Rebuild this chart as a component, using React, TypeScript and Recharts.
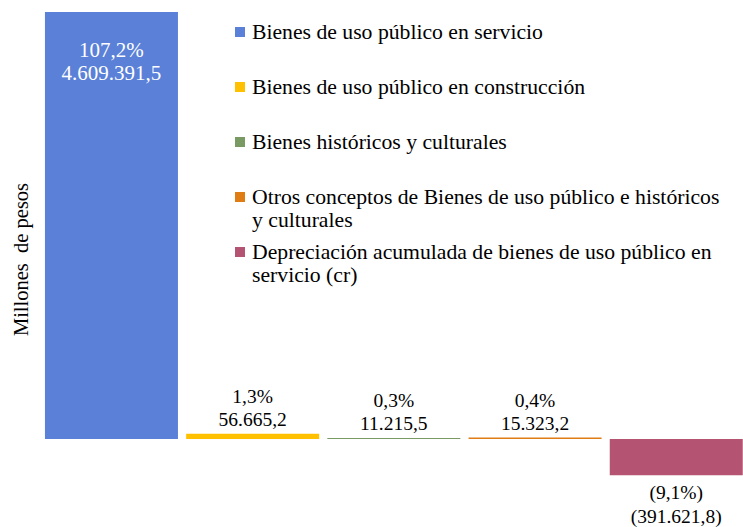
import { FC } from 'react';
import { BarChart, Bar, XAxis, YAxis, Cell, LabelList, Legend } from 'recharts';

const categories = [
  'Bienes de uso público en servicio',
  'Bienes de uso público en construcción',
  'Bienes históricos y culturales',
  'Otros conceptos de Bienes de uso público e históricos y culturales',
  'Depreciación acumulada de bienes de uso público en servicio (cr)',
];
const amounts = [4609391.5, 56665.2, 11215.5, 15323.2, -391621.8];
const shares = ['107,2%', '1,3%', '0,3%', '0,4%', '(9,1%)'];
const colors = ['#5A80D8', '#FFC000', '#7A9A63', '#E07C14', '#B55472'];

const data = categories.map((name, i) => ({ name, value: amounts[i] }));

const FONT = '"Liberation Serif", "Times New Roman", serif';

const fmt = (v: number) => {
  const [int, dec] = Math.abs(v).toFixed(1).split('.');
  const s = int.replace(/\B(?=(\d{3})+(?!\d))/g, '.') + ',' + dec;
  return v < 0 ? `(${s})` : s;
};

const BarLabel = (props: any) => {
  const { x, y, width, height, index, value } = props;
  const top = Math.min(y, y + height);
  const bottom = Math.max(y, y + height);
  const cx = x + width / 2;
  let y1: number;
  let y2: number;
  let fill = '#000';
  let size = 19.5;
  if (index === 0) {
    y1 = top + 38;
    y2 = top + 61;
    fill = '#fff';
    size = 21;
  } else if (value < 0) {
    y1 = bottom + 17;
    y2 = bottom + 41;
  } else {
    y1 = top - 37;
    y2 = top - 14;
  }
  return (
    <g fontFamily={FONT} fontSize={size} fill={fill} textAnchor="middle">
      <text x={cx} y={y1} dominantBaseline="central" fill={fill}>{shares[index]}</text>
      <text x={cx} y={y2} dominantBaseline="central" fill={fill}>{fmt(amounts[index])}</text>
    </g>
  );
};

const LegendBox = () => (
  <div style={{ fontFamily: FONT, fontSize: 21.7, lineHeight: '23px', color: '#000' }}>
    {categories.map((c, i) => (
      <div key={c} style={{ display: 'flex', height: 55, alignItems: 'flex-start' }}>
        <span style={{ width: 10, height: 10, background: colors[i], marginTop: 6, marginRight: 7, flex: 'none' }} />
        <span style={{ width: 470 }}>{c}</span>
      </div>
    ))}
  </div>
);

const App: FC = () => {
  return (
    <div style={{ position: 'absolute', left: 0, top: 0, width: 743, height: 527, overflow: 'hidden' }}>
      <BarChart
        width={743}
        height={527}
        data={data}
        margin={{ top: 12, right: -4, left: 0, bottom: 0 }}
        barCategoryGap="2.8%"
      >
        <XAxis dataKey="name" hide />
        <YAxis
          width={41}
          domain={[-950000, 4609391.5]}
          tick={false}
          axisLine={false}
          tickLine={false}
          label={{
            value: 'Millones\u00a0 de pesos',
            angle: -90,
            position: 'center',
            dx: 0,
            dy: -10,
            style: { fontFamily: FONT, fontSize: 20.5, fill: '#000' },
          }}
        />
        <Legend
          layout="horizontal"
          verticalAlign="middle"
          align="center"
          content={<LegendBox />}
          wrapperStyle={{ left: 235, top: 21, width: 500, height: 300 }}
        />
        <Bar dataKey="value" isAnimationActive={false}>
          {data.map((d, i) => (
            <Cell key={d.name} fill={colors[i]} />
          ))}
          <LabelList dataKey="value" content={<BarLabel />} />
        </Bar>
      </BarChart>
    </div>
  );
};

export default App;
